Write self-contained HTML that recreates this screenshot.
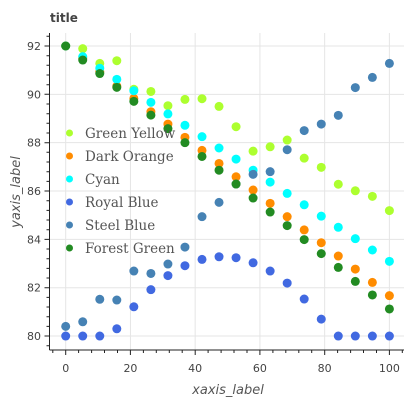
<!DOCTYPE html>
<html><head><meta charset="utf-8"><style>
body{margin:0;background:#fff;}
svg{display:block;}
</style></head><body>
<svg id="chart" width="410" height="400" xmlns="http://www.w3.org/2000/svg">
<text x="50" y="22" font-family="DejaVu Sans, sans-serif" font-weight="bold" font-size="12" fill="#444">title</text>
<text x="228" y="394" text-anchor="middle" font-family="DejaVu Sans, sans-serif" font-style="italic" font-size="13" fill="#555">xaxis_label</text>
<text transform="translate(20,192) rotate(-90)" text-anchor="middle" font-family="DejaVu Sans, sans-serif" font-style="italic" font-size="13" fill="#555">yaxis_label</text>
<g id="grid"></g><g id="axes"></g><g id="marks"></g><g id="legend"></g>
</svg>
<script>
const xValues=[0,5.26,10.53,15.79,21.05,26.32,31.58,36.84,42.11,47.37,52.63,57.89,63.16,68.42,73.68,78.95,84.21,89.47,94.74,100];
const seriesNames=["Green Yellow","Dark Orange","Cyan","Royal Blue","Steel Blue","Forest Green"];
const seriesColors=["#adff2f","#ff8c00","#00ffff","#4169e1","#4682b4","#228b22"];
const greenYellow=[92,91.89,91.28,91.39,90.21,90.12,89.53,89.79,89.82,89.50,88.66,87.65,87.83,88.11,87.36,86.98,86.28,86.01,85.78,85.19];
const darkOrange=[92,91.5,90.94,90.34,89.83,89.28,88.77,88.22,87.68,87.14,86.59,86.04,85.49,84.94,84.39,83.86,83.31,82.77,82.22,81.67];
const cyan=[92,91.56,91.08,90.62,90.15,89.67,89.19,88.72,88.25,87.78,87.32,86.86,86.37,85.90,85.43,84.96,84.50,84.03,83.56,83.09];
const royalBlue=[80,80,80,80.3,81.21,81.92,82.50,82.91,83.17,83.28,83.24,83.03,82.69,82.19,81.53,80.70,80,80,80,80];
const steelBlue=[80.40,80.59,81.52,81.49,82.69,82.59,82.98,83.68,84.94,85.53,86.29,86.69,86.80,87.71,88.50,88.77,89.13,90.28,90.70,91.28];
const forestGreen=[92,91.42,90.86,90.29,89.71,89.14,88.58,88.00,87.43,86.86,86.29,85.71,85.13,84.57,83.99,83.41,82.84,82.26,81.70,81.12];
const xTicks=[0,20,40,60,80,100];
const yTicks=[80,82,84,86,88,90,92];
const allSeries=[greenYellow,darkOrange,cyan,royalBlue,steelBlue,forestGreen];
const NS="http://www.w3.org/2000/svg";
function X(v){return 65.7+v*3.237;}
function Y(v){return 46-(v-92)*24.17;}
function mk(tag,attrs,parent){const e=document.createElementNS(NS,tag);for(const k in attrs)e.setAttribute(k,attrs[k]);parent.appendChild(e);return e;}
const grid=document.getElementById('grid'),axes=document.getElementById('axes'),marks=document.getElementById('marks'),legend=document.getElementById('legend');
const L=49.5,R=404,T=33,B=350;
xTicks.forEach(t=>{const l=mk('line',{x1:X(t),x2:X(t),y1:T,y2:B,stroke:'#e5e5e5','stroke-width':1},grid);


const tx=mk('text',{x:X(t),y:372,'text-anchor':'middle','font-family':'DejaVu Sans, sans-serif','font-size':11,fill:'#444'},axes);tx.textContent=t;

});
yTicks.forEach(t=>{const l=mk('line',{x1:L,x2:R,y1:Y(t),y2:Y(t),stroke:'#e5e5e5','stroke-width':1},grid);


const tx=mk('text',{x:41,y:Y(t)+4,'text-anchor':'end','font-family':'DejaVu Sans, sans-serif','font-size':11,fill:'#444'},axes);tx.textContent=t;

});
let d='M'+L+' '+T+'V'+B+'M'+L+' '+B+'H'+R;
for(let v=-4;v<=104;v+=4){const x=X(v);if(x<L||x>R)continue;d+='M'+x.toFixed(1)+' '+B+'v'+(v%20===0?5:3);}
for(let v=79.2;v<=94;v+=0.4){const y=Y(v);if(y<T||y>B)continue;const maj=Math.abs(Math.round(v/2)*2-v)<0.01;d+='M'+L+' '+y.toFixed(1)+'h'+(maj?-5:-3);}
const ax=mk('path',{d:d,stroke:'#222','stroke-width':1,fill:'none'},axes);


allSeries.forEach((s,i)=>{s.forEach((v,j)=>{const c=mk('circle',{cx:X(xValues[j]),cy:Y(v),r:4.5,fill:seriesColors[i]},marks);

});});
seriesNames.forEach((n,i)=>{const y=133+i*23;
const c=mk('circle',{cx:69.5,cy:y,r:3.5,fill:seriesColors[i]},legend);


const t=mk('text',{x:85,y:y+5,'font-family':'DejaVu Serif, Liberation Serif, serif','font-size':13.5,fill:'#555'},legend);t.textContent=n;

});
</script>
</body></html>
